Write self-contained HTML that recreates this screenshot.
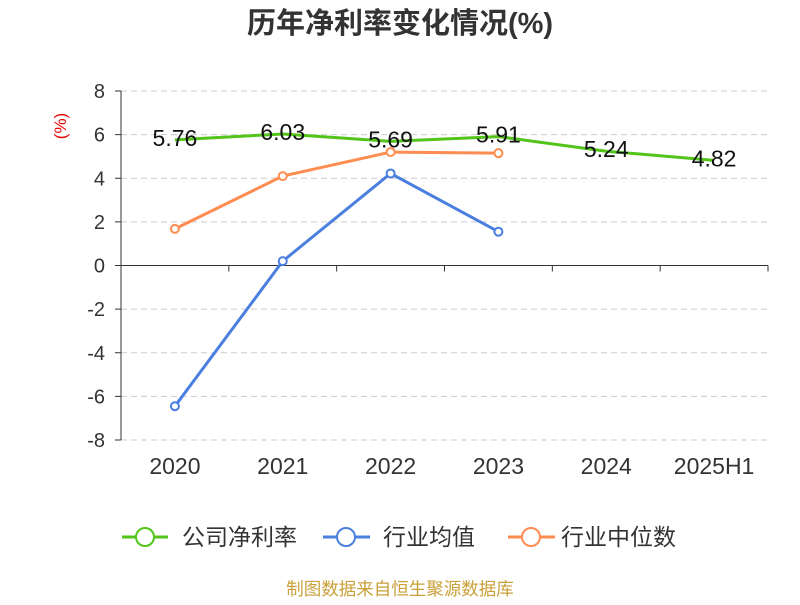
<!DOCTYPE html>
<html><head><meta charset="utf-8">
<style>
body{margin:0;background:#fff;}
svg text{font-family:"Liberation Sans","Noto Sans CJK SC",sans-serif;}
</style></head>
<body>
<svg id="chart" width="800" height="600" viewBox="0 0 800 600">
<text x="400" y="33" text-anchor="middle" font-size="29" font-weight="bold" fill="#333">历年净利率变化情况(%)</text>
<text transform="translate(66,126) rotate(-90)" text-anchor="middle" font-size="17" fill="#e00">(%)</text>
<g id="grid"></g><g id="series"></g>
<g>
<g><line x1="122" y1="537" x2="168" y2="537" stroke="#52c41a" stroke-width="3"/><circle cx="145" cy="537" r="9" fill="#fff" stroke="#52c41a" stroke-width="2"/><text x="182" y="545" font-size="23" fill="#333">公司净利率</text></g>
<g><line x1="323" y1="537" x2="370" y2="537" stroke="#4a7fe0" stroke-width="3"/><circle cx="346" cy="537" r="9" fill="#fff" stroke="#4a7fe0" stroke-width="2"/><text x="383" y="545" font-size="23" fill="#333">行业均值</text></g>
<g><line x1="508" y1="537" x2="555" y2="537" stroke="#ff8c50" stroke-width="3"/><circle cx="531" cy="537" r="9" fill="#fff" stroke="#ff8c50" stroke-width="2"/><text x="561" y="545" font-size="23" fill="#333">行业中位数</text></g>
</g>
<text x="400" y="595" text-anchor="middle" font-size="17.5" fill="#c9a13a">制图数据来自恒生聚源数据库</text>
</svg>
<script>
const categories=["2020","2021","2022","2023","2024","2025H1"];
const companyValues=[5.76,6.03,5.69,5.91,5.24,4.82];
const industryAvg=[-6.45,0.2,4.22,1.55];
const industryMedian=[1.68,4.1,5.2,5.15];
const yTicks=[8,6,4,2,0,-2,-4,-6,-8];
const NS="http://www.w3.org/2000/svg";
const L=121,R=768,T=91,B=440,yMin=-8,yMax=8;
const bw=(R-L)/categories.length;
const xs=i=>L+bw*(i+0.5);
const ys=v=>B-(v-yMin)/(yMax-yMin)*(B-T);
function mk(tag,attrs,parent){const e=document.createElementNS(NS,tag);for(const k in attrs)e.setAttribute(k,attrs[k]);parent.appendChild(e);return e;}
const grid=document.getElementById('grid'),ser=document.getElementById('series');
yTicks.forEach(v=>{
  if(v!==0){const g=mk('line',{x1:L,x2:R,y1:ys(v),y2:ys(v),stroke:'#ccc','stroke-dasharray':'6,4'},grid);
  
  }
  const tk=mk('line',{x1:L-6,x2:L,y1:ys(v),y2:ys(v),stroke:'#333'},grid);
  
  
  const t=mk('text',{x:L-16,y:ys(v)+7,'text-anchor':'end','font-size':'20',fill:'#333'},grid);t.textContent=v;
  
  
});
const ya=mk('line',{x1:L,x2:L,y1:T,y2:B,stroke:'#333'},grid);


const xa=mk('line',{x1:L,x2:R,y1:ys(0),y2:ys(0),stroke:'#333'},grid);


for(let i=0;i<=categories.length;i++){const t=mk('line',{x1:L+bw*i,x2:L+bw*i,y1:ys(0),y2:ys(0)+6,stroke:'#333'},grid);

}
categories.forEach((c,i)=>{const t=mk('text',{x:xs(i),y:474,'text-anchor':'middle','font-size':'23',fill:'#333'},grid);t.textContent=c;

});
function line(vals,color,name,markers,labels){
  const p=mk('polyline',{points:vals.map((v,i)=>xs(i)+','+ys(v)).join(' '),fill:'none',stroke:color,'stroke-width':3},ser);
  
  
  vals.forEach((v,i)=>{
    if(markers){const c=mk('circle',{cx:xs(i),cy:ys(v),r:4,fill:'#fff',stroke:color,'stroke-width':2},ser);
    
    }
    if(labels){const t=mk('text',{x:xs(i),y:ys(v)+6,'text-anchor':'middle','font-size':'23',fill:'#111'},ser);t.textContent=v.toFixed(2);
    
    }
  });
}
line(industryMedian,'#ff8c50','industry-median',true,false);
line(industryAvg,'#4a7fe0','industry-avg',true,false);
line(companyValues,'#52c41a','company',false,true);
</script>
</body></html>
